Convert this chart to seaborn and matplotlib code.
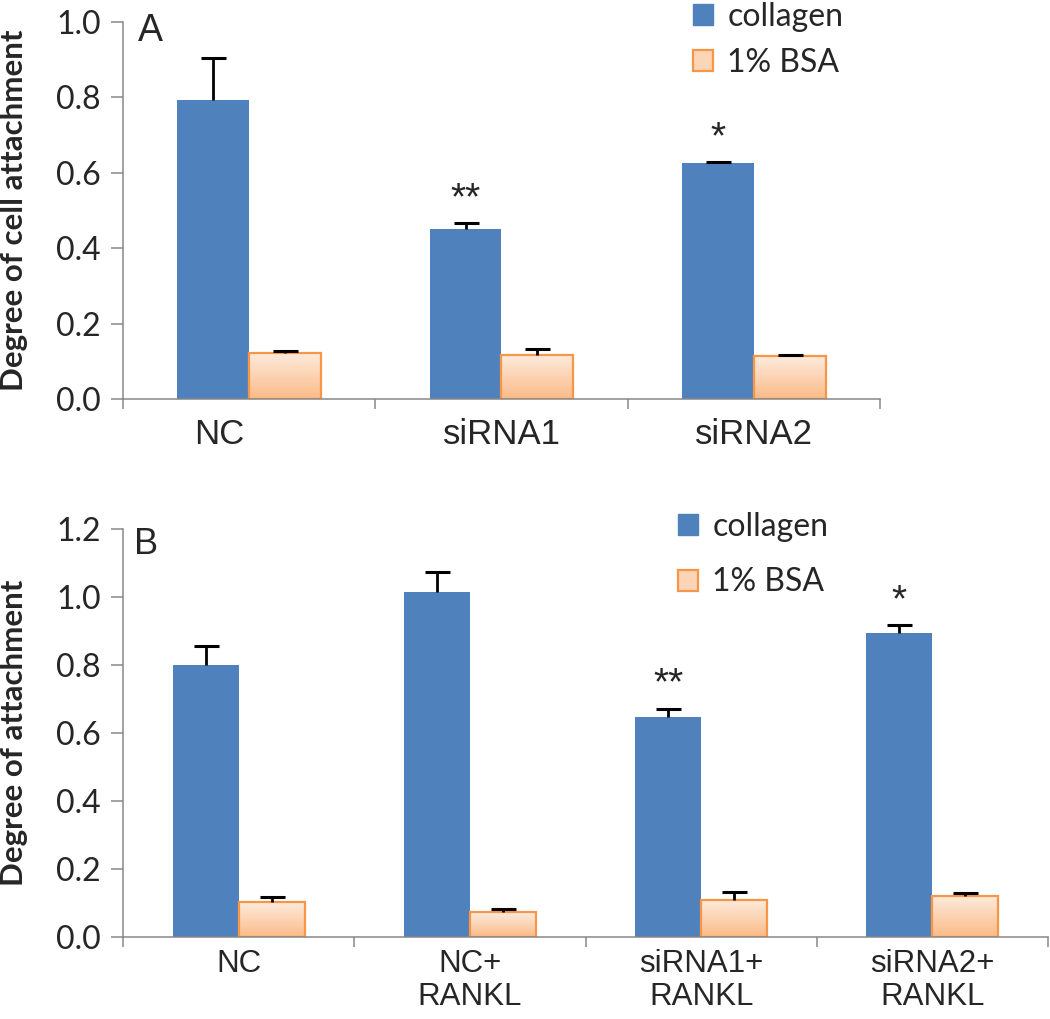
import numpy as np
import pandas as pd
import matplotlib
matplotlib.use("Agg")
import matplotlib.pyplot as plt
from matplotlib.colors import LinearSegmentedColormap
from matplotlib.patches import Patch
from matplotlib.transforms import ScaledTranslation
import seaborn as sns

# panel A
groups_a = ["NC", "siRNA1", "siRNA2"]
collagen_a = [0.793, 0.451, 0.625]
collagen_err_a = [0.112, 0.016, 0.004]
bsa_a = [0.123, 0.117, 0.114]
bsa_err_a = [0.003, 0.016, 0.003]
stars_a = ["", "**", "*"]
yticks_a = [0.0, 0.2, 0.4, 0.6, 0.8, 1.0]

# panel B
groups_b = ["NC", "NC+\nRANKL", "siRNA1+\nRANKL", "siRNA2+\nRANKL"]
collagen_b = [0.800, 1.016, 0.646, 0.895]
collagen_err_b = [0.057, 0.058, 0.026, 0.023]
bsa_b = [0.102, 0.073, 0.109, 0.121]
bsa_err_b = [0.017, 0.008, 0.024, 0.008]
stars_b = ["", "", "**", "*"]
yticks_b = [0.0, 0.2, 0.4, 0.6, 0.8, 1.0, 1.2]

series = ["collagen", "1% BSA"]

BLUE = "#4f81bd"
ORANGE = "#f79646"
GREY = "#878787"
bsa_fade = LinearSegmentedColormap.from_list("bsa", ["#fbbb88", "#fdebdd"])

sns.set_style("ticks")
plt.rcParams["font.family"] = ["Liberation Sans", "DejaVu Sans"]


def long_table(groups, collagen, bsa):
    return pd.DataFrame({
        "group": groups * 2,
        "series": [series[0]] * len(groups) + [series[1]] * len(groups),
        "value": collagen + bsa,
    })


def draw_panel(ax, groups, collagen, collagen_err, bsa, bsa_err, stars, yticks,
               ylabel, ylabel_x, letter, letter_xy, letter_size, xfont, xpad,
               legend_xy, legend_gap, first_label_shift=0):
    df = long_table(groups, collagen, bsa)
    sns.barplot(data=df, x="group", y="value", hue="series", order=groups,
                hue_order=series, palette=[BLUE, "white"], width=0.57,
                errorbar=None, legend=False, saturation=1, linewidth=0, ax=ax)
    coll_bars, bsa_bars = ax.containers

    # BSA bars: orange outline with a soft vertical gradient
    for bar in bsa_bars:
        bar.set_facecolor("none")
        bar.set_edgecolor(ORANGE)
        bar.set_linewidth(1.6)
        x0, w, h = bar.get_x(), bar.get_width(), bar.get_height()
        img = ax.imshow(np.linspace(0, 1, 64).reshape(-1, 1), cmap=bsa_fade,
                        extent=[x0, x0 + w, 0, h], aspect="auto",
                        origin="lower", zorder=0.9)
        img.set_clip_path(bar)

    # upper error bars only
    for bars, errs in ((coll_bars, collagen_err), (bsa_bars, bsa_err)):
        xs = [b.get_x() + b.get_width() / 2 for b in bars]
        ys = [b.get_height() for b in bars]
        _, caps, _ = ax.errorbar(xs, ys, yerr=[np.zeros(len(errs)), errs],
                                 fmt="none", ecolor="black", elinewidth=2,
                                 capsize=9, capthick=2.2, zorder=3)
        caps[0].set_visible(False)

    for b, e, s in zip(coll_bars, collagen_err, stars):
        if s:
            ax.annotate(s, (b.get_x() + b.get_width() / 2, b.get_height() + e),
                        xytext=(0, 10), textcoords="offset points",
                        ha="center", va="baseline", fontsize=28)

    ax.set_xlim(-0.5, len(groups) - 0.5)
    ax.set_ylim(0, yticks[-1])
    ax.set_yticks(yticks)
    ax.set_yticklabels([f"{t:.1f}" for t in yticks], fontfamily="Lato", fontsize=23)
    ax.set_xticks(range(len(groups)))
    ax.set_xticklabels(groups, fontsize=xfont, linespacing=1.12)
    ax.set_xticks(np.arange(len(groups) + 1) - 0.5, minor=True)
    ax.tick_params(axis="x", which="major", length=0, pad=xpad)
    ax.tick_params(axis="x", which="minor", length=7, width=1.1, color=GREY)
    ax.tick_params(axis="y", length=9, width=1.1, color=GREY, pad=7)
    if first_label_shift:
        lab = ax.get_xticklabels()[0]
        lab.set_transform(lab.get_transform() +
                          ScaledTranslation(first_label_shift / 100, 0,
                                            ax.figure.dpi_scale_trans))
    ax.set_xlabel("")
    ax.set_ylabel(ylabel, fontfamily="Lato", fontweight="bold", fontsize=22.5)
    ax.yaxis.set_label_coords(ylabel_x, 0.5)
    sns.despine(ax=ax)
    for side in ("left", "bottom"):
        ax.spines[side].set_color(GREY)
        ax.spines[side].set_linewidth(1.1)

    ax.text(letter_xy[0], letter_xy[1], letter, transform=ax.transAxes,
            ha="center", va="center", fontsize=letter_size)

    handles = [Patch(facecolor=BLUE, edgecolor=BLUE),
               Patch(facecolor="#fcd5b6", edgecolor=ORANGE, linewidth=1.6)]
    ax.legend(handles, series, loc="upper left", bbox_to_anchor=legend_xy,
              frameon=False, prop={"family": "Lato", "size": 23},
              handlelength=0.62, handleheight=0.62, handletextpad=0.45,
              labelspacing=legend_gap, borderpad=0, borderaxespad=0)


fig = plt.figure(figsize=(10.5, 10.19), dpi=100)
ax_a = fig.add_axes([123 / 1050, 1 - 399 / 1019, 757 / 1050, 377 / 1019])
ax_b = fig.add_axes([123 / 1050, 1 - 937 / 1019, 925 / 1050, 408 / 1019])

draw_panel(ax_a, groups_a, collagen_a, collagen_err_a, bsa_a, bsa_err_a, stars_a,
           yticks_a, "Degree of cell attachment", -0.1255, "A", (0.036, 0.975), 27,
           25, 14, (0.753, 1.053), 0.5, first_label_shift=-30)
draw_panel(ax_b, groups_b, collagen_b, collagen_err_b, bsa_b, bsa_err_b, stars_b,
           yticks_b, "Degree of attachment", -0.1027, "B", (0.025, 0.963), 26,
           22.5, 9, (0.6, 1.042), 0.8)

fig.savefig("out.png", dpi=100)
